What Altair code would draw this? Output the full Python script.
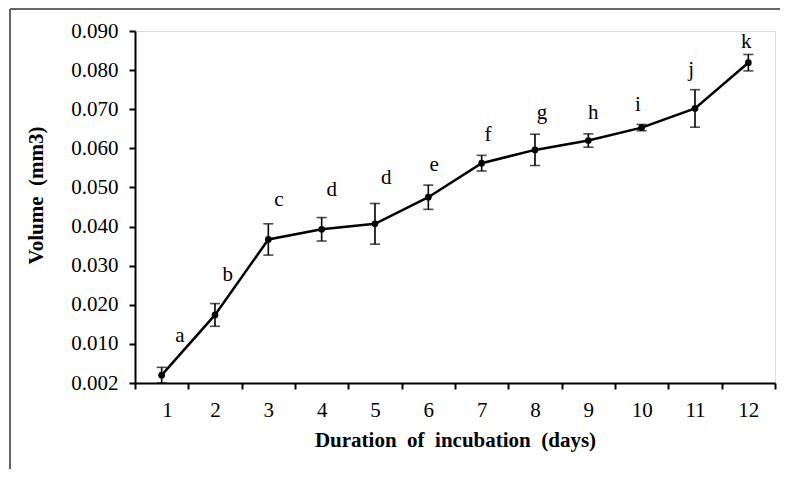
import altair as alt
import pandas as pd

days = list(range(1, 13))
means = [0.0020, 0.0174, 0.0367, 0.0393, 0.0407, 0.0475, 0.0562, 0.0596, 0.0620, 0.0653, 0.0702, 0.0819]
errors = [0.0020, 0.0029, 0.0040, 0.0030, 0.0052, 0.0031, 0.0020, 0.0040, 0.0017, 0.0008, 0.0048, 0.0021]
letters = ["a", "b", "c", "d", "d", "e", "f", "g", "h", "i", "j", "k"]
letter_x = [1.34, 2.24, 3.20, 4.19, 5.21, 6.11, 7.12, 8.13, 9.09, 9.93, 10.93, 11.96]
letter_y = [0.0119, 0.0276, 0.0468, 0.0493, 0.0524, 0.0557, 0.0634, 0.0690, 0.0690, 0.0711, 0.0800, 0.0872]

x_ticks = [d - 0.5 for d in days] + [12.5]
y_ticks = [i / 100 for i in range(0, 10)]

df = pd.DataFrame({
    "day": days,
    "mean": means,
    "lo": [m - e for m, e in zip(means, errors)],
    "hi": [m + e for m, e in zip(means, errors)],
})
lab = pd.DataFrame({"lx": letter_x, "ly": letter_y, "letter": letters})

FONT = "Liberation Serif"
W, H = 640, 352
SP = " \u00a0"

xscale = alt.Scale(domain=[0.5, 12.5], nice=False, zero=False)
yscale = alt.Scale(domain=[0, 0.09], nice=False, zero=False)

xaxis = alt.Axis(
    values=x_ticks,
    tickCount=30,
    labelExpr="datum.value < 12 ? format(datum.value + 0.5, 'd') : ''",
    labelOffset=W / 24,
    labelOverlap=False,
    title="Duration" + SP + "of" + SP + "incubation" + SP + "(days)",
    grid=False,
    domainColor="black", domainWidth=2,
    tickColor="black", tickWidth=2, tickSize=6,
    labelFont=FONT, labelFontSize=21, labelColor="black", labelPadding=10,
    titleFont=FONT, titleFontSize=21, titleFontWeight="bold", titleColor="black",
    titlePadding=9,
)
yaxis = alt.Axis(
    values=y_ticks,
    tickCount=30,
    labelExpr="datum.value == 0 ? '0.002' : format(datum.value, '.3f')",
    labelOverlap=False,
    title="Volume" + SP + "(mm3)",
    grid=False,
    domainColor="black", domainWidth=2,
    tickColor="black", tickWidth=2, tickSize=6,
    labelFont=FONT, labelFontSize=21, labelColor="black", labelPadding=11,
    titleFont=FONT, titleFontSize=21, titleFontWeight="bold", titleColor="black",
    titlePadding=24,
    titleY=164,
)

base = alt.Chart(df)

line = base.mark_line(color="black", strokeWidth=2.5).encode(
    x=alt.X("day:Q", scale=xscale, axis=xaxis),
    y=alt.Y("mean:Q", scale=yscale, axis=yaxis),
)
pts = base.mark_circle(color="black", size=45, opacity=1).encode(
    x=alt.X("day:Q", scale=xscale), y=alt.Y("mean:Q", scale=yscale)
)
bars = base.mark_rule(color="black", strokeWidth=1.6).encode(
    x=alt.X("day:Q", scale=xscale), y=alt.Y("lo:Q", scale=yscale), y2="hi:Q"
)
cap_hi = base.mark_tick(color="black", orient="horizontal", size=10, thickness=1.6).encode(
    x=alt.X("day:Q", scale=xscale), y=alt.Y("hi:Q", scale=yscale)
)
cap_lo = base.mark_tick(color="black", orient="horizontal", size=10, thickness=1.6).encode(
    x=alt.X("day:Q", scale=xscale), y=alt.Y("lo:Q", scale=yscale)
)
text = alt.Chart(lab).mark_text(
    font=FONT, fontSize=21, color="black", baseline="middle", align="center"
).encode(
    x=alt.X("lx:Q", scale=xscale), y=alt.Y("ly:Q", scale=yscale), text="letter:N"
)

frame_left = alt.Chart(df).mark_rule(color="#666666", strokeWidth=2).encode(
    x=alt.value(-125), y=alt.value(-22), y2=alt.value(450)
)
frame_top = alt.Chart(df).mark_rule(color="#666666", strokeWidth=2).encode(
    x=alt.value(-125), x2=alt.value(660), y=alt.value(-22)
)

chart = alt.layer(frame_left, frame_top, line, bars, cap_hi, cap_lo, pts, text).properties(
    width=W, height=H,
    autosize=alt.AutoSizeParams(type="none"),
    padding={"left": 127, "top": 23, "right": 5, "bottom": 86},
).configure_view(stroke="transparent", strokeWidth=0).configure(background="white")

chart.save("out.html", embed_options={"renderer": "svg", "actions": False})
